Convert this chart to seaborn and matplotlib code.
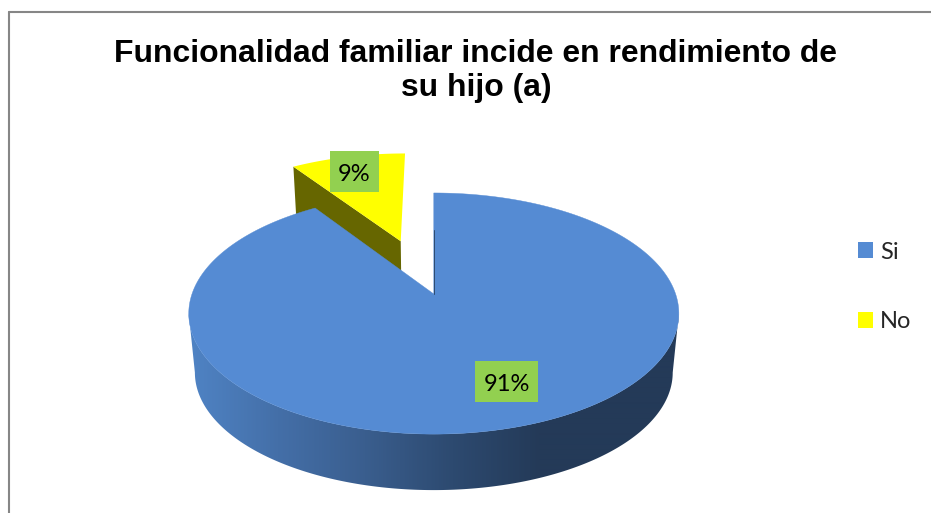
import numpy as np
import pandas as pd
import seaborn as sns
import matplotlib.pyplot as plt
from matplotlib.colors import LinearSegmentedColormap
from matplotlib.patches import Patch, Polygon, Rectangle

categories = ["Si", "No"]
values = [90.6, 9.4]
title = "Funcionalidad familiar incide en rendimiento de\nsu hijo (a)"

df = pd.DataFrame({"categoria": categories, "valor": values})

sns.set_theme(style="white")
palette = sns.color_palette(["#558bd3", "#ffff00"])
side_cmap = LinearSegmentedColormap.from_list(
    "side", ["#4f83c4", "#446fa8", "#3a5e8e", "#2d4a70", "#243a58"]
)

# the pie is drawn in pixel coordinates of the original picture
fig = plt.figure(figsize=(9.31, 5.13), dpi=100)
ax = fig.add_axes([0, 0, 1, 1])
ax.axis("off")

CX, CY = 433.8, 294
RX, RY, K = 241.8, 117.4, 0.162
DEPTH_OFF, DEPTH_SCALE = 59.5, 0.975


def project(u, v, depth=0.0):
    s = 1 - (1 - DEPTH_SCALE) * depth
    w = 1 + K * np.asarray(v)
    return CX + s * RX * np.asarray(u) / w, CY - s * RY * np.asarray(v) / w + DEPTH_OFF * depth


def arc(a0, a1, n=200):
    t = np.radians(np.linspace(a0, a1, n))
    return np.sin(t), np.cos(t)


# slice angles clockwise from 12 o'clock
fractions = df["valor"] / df["valor"].sum()
edges = np.concatenate([[0], np.cumsum(fractions) * 360])

# yellow slice pulled out of the pie
a0, a1 = edges[1], edges[2]
mid = np.radians((a0 + a1) / 2)
ex, ey = 0.507 * np.sin(mid), 0.507 * np.cos(mid)
u, v = arc(a0, a1)
u, v = u + ex, v + ey
# cut face
cu = np.array([ex, u[0]])
cv = np.array([ey, v[0]])
x_top, y_top = project(cu, cv, 0)
x_bot, y_bot = project(cu, cv, 1)
ax.fill(np.r_[x_top, x_bot[::-1]], np.r_[y_top, y_bot[::-1]], color="#666600", lw=0)
x, y = project(np.r_[ex, u], np.r_[ey, v])
ax.fill(x, y, color=palette[1], lw=0)

# blue side, gradient clipped to the band between the rims, widest points to widest points
silhouette = np.degrees(np.arccos(-K))
u, v = arc(silhouette, 360 - silhouette, 300)
xt, yt = project(u, v, 0)
xb, yb = project(u, v, 1)
side = Polygon(np.c_[np.r_[xt, xb[::-1]], np.r_[yt, yb[::-1]]], transform=ax.transData,
               fc="none", ec="none")
ax.add_patch(side)
grad = np.clip((np.arange(180, 700) - 190) / 350, 0, 1)[None, :]
img = ax.imshow(grad, cmap=side_cmap, vmin=0, vmax=1, extent=(180, 700, 510, 180),
                aspect="auto", interpolation="bilinear")
img.set_clip_path(side)

a0, a1 = edges[0], edges[1]
u, v = arc(a0, a1, 400)
x, y = project(np.r_[0, u], np.r_[0, v])
ax.fill(x, y, color=palette[0], lw=0.3)

# thin dark edge of the cut at 12 o'clock
x, y = project(np.array([0, 0]), np.array([0, 0.6]))
ax.plot(x, y, color="#2c4a70", lw=0.7)

# data labels
label_boxes = [(475, 361, 63, 41), (330, 151, 49, 41)]
for (bx, by, bw, bh), val in zip(label_boxes, df["valor"]):
    ax.add_patch(Rectangle((bx, by), bw, bh, color="#92d050", lw=0))
    ax.text(bx + bw / 2, by + bh / 2 + 1, f"{val:.0f}%", ha="center", va="center_baseline",
            fontsize=17, family="Lato", color="black")

ax.text(476, 71, title, ha="center", va="center", fontsize=22.97, fontweight="bold",
        family="Liberation Sans", color="black", linespacing=1.14)

# chart area border
ax.plot([9, 9], [513, 12], color="#868686", lw=1.5)
ax.plot([9, 931], [12, 12], color="#868686", lw=1.5)

ax.set_xlim(0, 931)
ax.set_ylim(513, 0)

handles = [Patch(color=c, label=l, lw=0) for c, l in zip(palette, df["categoria"])]
ax.legend(handles=handles, loc="upper left", bbox_to_anchor=(858 / 931, 1 - 241.5 / 513),
          frameon=False, prop={"family": "Lato", "size": 17}, handlelength=0.635,
          handleheight=0.635, handletextpad=0.3, labelspacing=2.06, borderpad=0, borderaxespad=0)

fig.savefig("out.png", dpi=100)
